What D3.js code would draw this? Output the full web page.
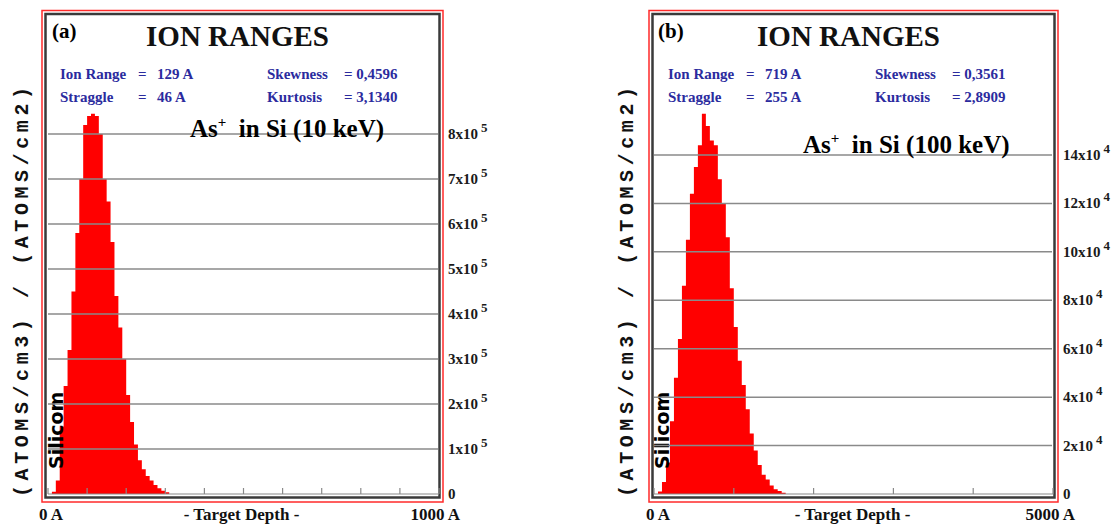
<!DOCTYPE html>
<html>
<head>
<meta charset="utf-8">
<script src="https://cdn.jsdelivr.net/npm/d3@7"></script>
<style>
  body { margin: 0; background: #fff; }
  svg { display: block; }
  text { font-family: "Liberation Serif", "Times New Roman", serif; }
</style>
</head>
<body>
<svg id="chart" width="1116" height="525"></svg>
<script>
// panel (a): As+ in Si, 10 keV  -- bin starts (A), bin width 10 A, counts in 1e5 atoms/cm3/(atoms/cm2)
const binsA = [10, 20, 30, 40, 50, 60, 70, 80, 90, 100, 110, 120, 130, 140, 150,
    160, 170, 180, 190, 200, 210, 220, 230, 240, 250, 260, 270, 280, 290, 300];
const countsA = [0.05, 0.3, 1.5, 2.4, 3.2, 4.5, 5.8, 7.0, 8.2, 8.4, 8.45, 8.4, 8.0, 7.0, 6.5,
    5.6, 4.4, 3.7, 3.0, 2.2, 1.6, 1.1, 0.75, 0.55, 0.4, 0.3, 0.2, 0.13, 0.07, 0.04];
const yTicksA = [0, 1, 2, 3, 4, 5, 6, 7, 8];
const xTicksA = [0, 100, 200, 300, 400, 500, 600, 700, 800, 900, 1000];
const statsA = ['129 A', '46 A', '= 0,4596', '= 3,1340'];

// panel (b): As+ in Si, 100 keV  -- bin width 50 A, counts in 1e4
const binsB = [50, 100, 150, 200, 250, 300, 350, 400, 450, 500, 550, 600, 650, 700, 750, 800,
    850, 900, 950, 1000, 1050, 1100, 1150, 1200, 1250, 1300, 1350, 1400, 1450, 1500, 1550, 1600];
const countsB = [0.1, 0.5, 1.3, 3.0, 4.8, 6.4, 8.6, 10.5, 12.4, 13.5, 14.4, 15.7, 15.2, 14.6, 14.4, 13.0,
    12.0, 10.6, 8.5, 6.9, 5.5, 4.5, 3.5, 2.5, 1.8, 1.2, 0.8, 0.6, 0.35, 0.2, 0.12, 0.05];
const yTicksB = [0, 2, 4, 6, 8, 10, 12, 14];
const xTicksB = [0, 1000, 2000, 3000, 4000, 5000];
const statsB = ['719 A', '255 A', '= 0,3561', '= 2,8909'];

const panels = [
    {
        letter: '(a)', energy: '10 keV', bins: binsA, counts: countsA, binWidth: 10,
        yTicks: yTicksA, xTicks: xTicksA, stats: statsA, exp: 5, xMax: 1000,
        frame: [42, 443], plot: [48, 439], yTop: 134, yMaxTick: 8,
        titleX: 22, asX: 190, asY: 137, textX: 60
    },
    {
        letter: '(b)', energy: '100 keV', bins: binsB, counts: countsB, binWidth: 50,
        yTicks: yTicksB, xTicks: xTicksB, stats: statsB, exp: 4, xMax: 5000,
        frame: [649, 1058], plot: [654, 1053], yTop: 155, yMaxTick: 14,
        titleX: 627, asX: 803, asY: 153, textX: 668
    }
];

const svg = d3.select('#chart');
const baseY = 494;
const blue = '#2b2b9e';

panels.forEach(p => {
    const g = svg.append('g');
    const x = d3.scaleLinear().domain([0, p.xMax]).range(p.plot);
    const y = d3.scaleLinear().domain([0, p.yMaxTick]).range([baseY, p.yTop]);

    // frames: red outer, dark inner
    g.append('rect')
        .attr('x', p.frame[0]).attr('y', 10.5)
        .attr('width', p.frame[1] - p.frame[0]).attr('height', 491.5)
        .attr('fill', 'none').attr('stroke', '#ff2a2a').attr('stroke-width', 1.5);
    g.append('rect')
        .attr('x', p.frame[0] + 3.5).attr('y', 14)
        .attr('width', p.frame[1] - p.frame[0] - 7).attr('height', 483.5)
        .attr('fill', 'none').attr('stroke', '#3a3a3a').attr('stroke-width', 2.5);

    // histogram as one stepped area (no seams between bins)
    const steps = p.bins.map((b, i) => ({ x0: b, v: p.counts[i] }));
    steps.push({ x0: p.bins[p.bins.length - 1] + p.binWidth, v: 0 });
    const area = d3.area()
        .curve(d3.curveStepAfter)
        .x(d => x(d.x0))
        .y0(baseY)
        .y1(d => y(d.v));
    g.append('path')
        .datum(steps)
        .attr('d', area)
        .attr('fill', '#ff0000');

    // layer name, on top of the red
    g.append('text')
        .attr('transform', `translate(${p.plot[0] + 15},469) rotate(-90)`)
        .style('font-family', '"DejaVu Sans", sans-serif')
        .style('font-weight', 'bold')
        .style('font-size', '19px')
        .attr('fill', '#000')
        .text('Silicom');

    // horizontal grid lines over the bars
    g.selectAll('line.grid')
        .data(p.yTicks.filter(t => t > 0))
        .enter()
        .append('line')
        .classed('grid', true)
        .attr('x1', p.plot[0]).attr('x2', p.plot[1] - 1)
        .attr('y1', d => y(d)).attr('y2', d => y(d))
        .attr('stroke', '#8a8a8a').attr('stroke-width', 1.5);

    // baseline + ticks
    g.append('line')
        .attr('x1', p.plot[0]).attr('x2', p.plot[1])
        .attr('y1', baseY).attr('y2', baseY)
        .attr('stroke', '#8a8a8a').attr('stroke-width', 1.2);
    g.selectAll('line.xtick')
        .data(p.xTicks)
        .enter()
        .append('line')
        .classed('xtick', true)
        .attr('x1', d => x(d)).attr('x2', d => x(d))
        .attr('y1', baseY).attr('y2', baseY - 6)
        .attr('stroke', '#8a8a8a').attr('stroke-width', 1.2);

    // right-hand tick labels
    const yl = g.selectAll('text.ylab')
        .data(p.yTicks)
        .enter()
        .append('text')
        .classed('ylab', true)
        .attr('x', p.frame[1] + 5)
        .attr('y', d => y(d) + 5)
        .style('font-weight', 'bold')
        .style('font-size', '15px')
        .attr('fill', '#1a1a1a');
    yl.append('tspan').text(d => d === 0 ? '0' : d + 'x10');
    yl.filter(d => d > 0).append('tspan')
        .attr('dx', 3).attr('dy', -7)
        .style('font-size', '13px')
        .text(p.exp);

    // heading
    g.append('text')
        .attr('x', p.plot[0] + 4).attr('y', 38)
        .style('font-weight', 'bold').style('font-size', '21px')
        .text(p.letter);
    g.append('text')
        .attr('x', (p.frame[0] + p.frame[1]) / 2 - 5).attr('y', 46)
        .attr('text-anchor', 'middle')
        .style('font-size', '29px')
        .style('font-weight', 'bold')
        .attr('fill', '#111')
        .text('ION RANGES');

    // statistics block
    const labels = ['Ion Range', 'Straggle', 'Skewness', 'Kurtosis'];
    labels.forEach((lab, i) => {
        const col = i < 2 ? 0 : 1;
        const row = i % 2;
        const ty = 79 + row * 23;
        const lx = p.textX + col * 207;
        const put = (tx, t) => g.append('text').attr('x', tx).attr('y', ty)
            .style('font-weight', 'bold').style('font-size', '15px')
            .attr('fill', blue).text(t);
        put(lx, lab);
        if (col === 0) {
            put(lx + 78, '=');
            put(lx + 97, p.stats[row]);
        } else {
            put(lx + 77, p.stats[2 + row]);
        }
    });

    // ion / energy label
    const as = g.append('text')
        .attr('x', p.asX).attr('y', p.asY)
        .style('font-weight', 'bold').style('font-size', '25px')
        .attr('fill', '#000');
    as.append('tspan').text('As');
    as.append('tspan').attr('dy', -10).style('font-size', '15px').text('+');
    as.append('tspan').attr('dy', 10).text('\u00a0 in Si (' + p.energy + ')');

    // y axis title
    g.append('text')
        .attr('transform', `translate(${p.titleX},292) rotate(-90)`)
        .attr('text-anchor', 'middle')
        .attr('dominant-baseline', 'central')
        .style('font-family', '"Liberation Mono", "DejaVu Sans Mono", monospace')
        .style('font-weight', 'bold')
        .style('font-size', '20px')
        .attr('textLength', 410)
        .attr('lengthAdjust', 'spacing')
        .attr('fill', '#111')
        .text('(ATOMS/cm3) / (ATOMS/cm2)');

    // bottom labels
    const bl = [
        { t: '0 A', x: p.frame[0] - 3, a: 'start' },
        { t: '- Target Depth -', x: (p.frame[0] + p.frame[1]) / 2 - 1, a: 'middle' },
        { t: p.xMax + ' A', x: p.frame[1] + 17, a: 'end' }
    ];
    g.selectAll('text.xlab')
        .data(bl)
        .enter()
        .append('text')
        .classed('xlab', true)
        .attr('x', d => d.x).attr('y', 520)
        .attr('text-anchor', d => d.a)
        .style('font-weight', 'bold').style('font-size', '17px')
        .attr('fill', '#111')
        .text(d => d.t);
});
</script>
</body>
</html>
